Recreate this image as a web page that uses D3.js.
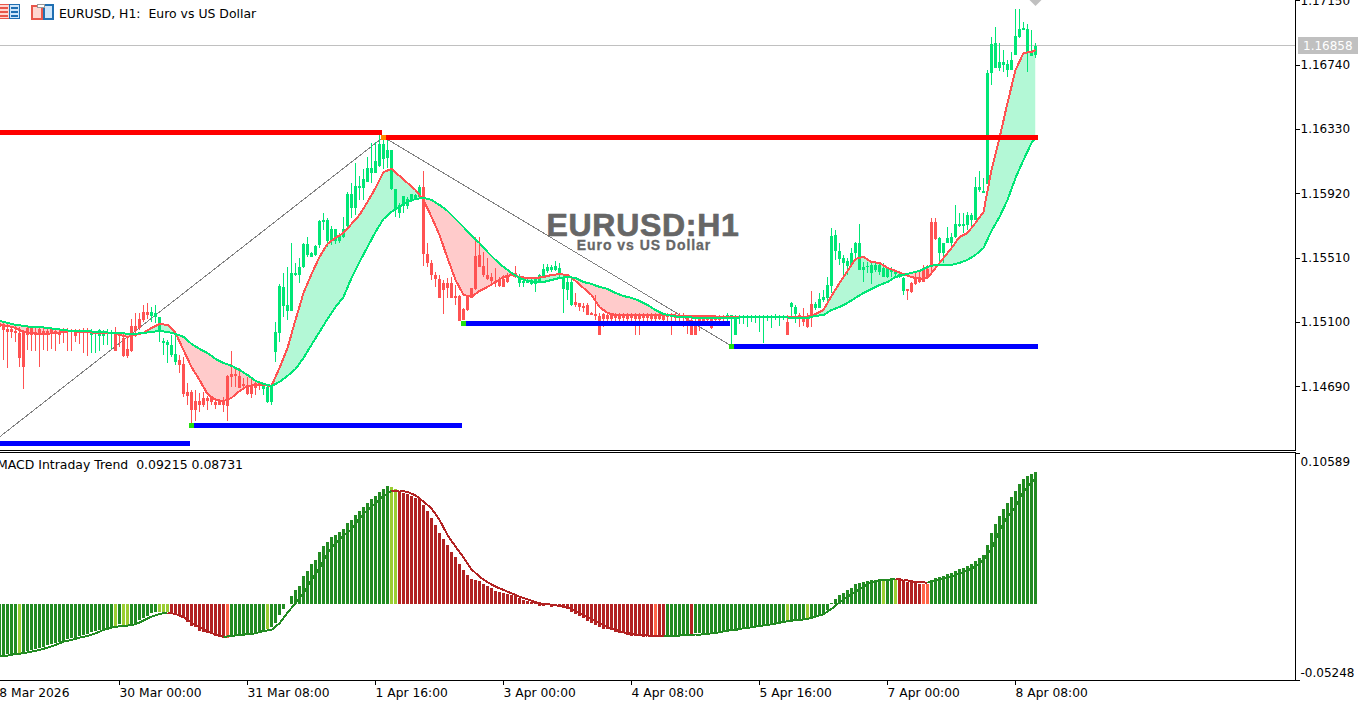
<!DOCTYPE html>
<html>
<head>
<meta charset="utf-8">
<title>EURUSD H1</title>
<script src="https://cdn.jsdelivr.net/npm/d3@7"></script>
<style>
  html, body { margin: 0; padding: 0; background: #fff; overflow: hidden; }
  svg { display: block; }
  text { font-family: "DejaVu Sans", sans-serif; font-size: 12px; fill: #000; }
</style>
</head>
<body>
<div id="chart"></div>
<script>
// all prices are in points, 15100 means 1.15100
const candleHigh = [
15100,15094,15094,15068,15081,15068,15049,15068,15068,15068,
15068,15068,15068,15068,15062,15062,15062,15062,15055,15055,
15055,15062,15062,15055,15043,15055,15049,15055,15049,15068,
15036,15030,14998,15119,15157,15157,15208,15221,15195,15208,
15132,14998,14985,15017,15017,14890,14877,14711,14667,14667,
14647,14654,14628,14628,14616,14609,14622,14762,14915,14813,
14807,14743,14749,14743,14730,14724,14711,14705,14705,15100,
15342,15412,15450,15603,15476,15507,15603,15641,15546,15590,
15750,15794,15762,15711,15692,15667,15769,15928,15985,16113,
16030,16075,16151,16240,16246,16291,16285,16259,16196,15947,
15858,15902,15896,15915,15915,15973,16062,15603,15495,15418,
15399,15367,15380,15386,15335,15272,15189,15259,15316,15641,
15641,15546,15507,15412,15444,15386,15399,15412,15418,15456,
15405,15367,15374,15374,15386,15405,15469,15469,15463,15488,
15476,15399,15393,15386,15284,15221,15221,15221,15164,15272,
15157,15157,15157,15157,15157,15157,15157,15157,15157,15157,
15157,15157,15157,15157,15157,15157,15157,15157,15157,15164,
15157,15157,15144,15144,15144,15132,15132,15144,15144,15144,
15144,15144,15157,15144,15144,15144,15144,15144,15144,15144,
15144,15144,15144,15144,15151,15144,15144,15144,15227,15208,
15157,15189,15157,15297,15227,15284,15304,15386,15699,15686,
15603,15527,15507,15571,15609,15724,15482,15482,15482,15482,
15476,15476,15450,15450,15431,15418,15386,15310,15354,15412,
15418,15463,15463,15762,15762,15641,15603,15705,15667,15845,
15794,15794,15801,15794,16024,16062,16017,16705,16915,16979,
16877,16833,16769,16820,17094,17094,17011,16998,16960,16877];

const candleLow = [
14985,14858,14807,14998,14973,14813,14673,14921,14915,14915,
14813,14921,14915,14928,14915,14960,14966,14915,14915,14973,
14960,14902,14883,14902,14902,14915,14954,14954,14928,14915,
14941,14877,14870,14909,15005,15049,15100,15119,15100,15094,
14973,14890,14839,14877,14826,14775,14622,14571,14444,14469,
14526,14558,14539,14571,14545,14571,14526,14469,14686,14686,
14679,14667,14635,14616,14635,14667,14635,14584,14571,14845,
14973,15132,15113,15176,15393,15348,15444,15514,15514,15520,
15571,15686,15578,15590,15597,15603,15635,15705,15762,15782,
15877,15877,15992,15985,16049,16087,16075,16081,15941,15769,
15762,15794,15820,15871,15877,15890,15456,15450,15367,15323,
15253,15151,15253,15253,15208,15106,15113,15170,15253,15304,
15450,15386,15367,15348,15323,15323,15323,15348,15393,15380,
15323,15323,15348,15335,15291,15348,15386,15412,15418,15425,
15380,15157,15240,15202,15195,15170,15164,15144,15144,15113,
15017,15068,15075,15075,15106,15100,15106,15094,15106,15017,
15017,15094,15100,15106,15094,15113,15094,15100,15017,15075,
15100,15068,15024,15017,15017,15043,15081,15087,15055,15087,
15087,15106,15087,14960,15017,15087,15087,15068,15100,15094,
15036,14966,15106,15062,15113,15075,15113,15017,15132,15094,
15068,15075,15062,15068,15176,15189,15227,15227,15284,15495,
15463,15386,15399,15450,15495,15431,15354,15412,15342,15418,
15399,15386,15380,15386,15380,15380,15272,15240,15284,15335,
15348,15354,15380,15418,15622,15476,15476,15603,15578,15635,
15705,15667,15686,15705,15750,15928,15922,15979,16610,16718,
16699,16692,16660,16705,16801,16909,16960,16692,16794,16782];

const bodyTop = [
15094,15081,15055,15055,15043,15030,15030,15062,15062,15036,
15055,15043,15043,15055,15043,15036,15049,15043,15043,15036,
15043,15043,15049,15036,15036,15049,15043,15036,15036,15030,
15030,14998,14928,15075,15075,15119,15164,15164,15164,15157,
15132,14979,14973,14954,14896,14858,14832,14654,14654,14596,
14596,14616,14616,14622,14590,14603,14603,14756,14769,14769,
14756,14705,14692,14692,14711,14711,14692,14686,14698,15036,
15329,15323,15208,15412,15412,15450,15597,15597,15539,15584,
15743,15750,15750,15692,15692,15648,15692,15915,15915,15966,
15966,16011,16081,16081,16125,16234,16234,16196,16196,15947,
15845,15902,15883,15915,15909,15960,15960,15533,15476,15399,
15374,15348,15348,15348,15265,15265,15183,15259,15316,15520,
15527,15456,15399,15386,15361,15374,15374,15386,15412,15412,
15380,15361,15367,15367,15374,15399,15437,15450,15450,15456,
15444,15386,15354,15354,15227,15221,15202,15208,15157,15151,
15138,15151,15144,15151,15151,15144,15144,15138,15144,15144,
15144,15144,15144,15144,15144,15144,15144,15144,15144,15144,
15144,15144,15125,15113,15100,15132,15125,15132,15125,15132,
15132,15138,15144,15144,15132,15138,15138,15138,15138,15138,
15138,15138,15138,15138,15138,15138,15138,15100,15221,15195,
15144,15132,15119,15215,15215,15246,15259,15335,15648,15654,
15552,15507,15488,15539,15603,15603,15450,15456,15463,15463,
15463,15444,15444,15431,15418,15405,15380,15310,15348,15380,
15386,15437,15437,15737,15737,15635,15603,15635,15641,15724,
15724,15724,15782,15782,15960,15960,15934,16686,16871,16877,
16756,16756,16743,16769,16922,16966,16973,16966,16820,16858];

const bodyBottom = [
15068,15049,15036,15036,15030,14870,14813,15017,15017,15017,
15030,15017,15030,15030,15030,15017,15036,15036,15036,15011,
15036,15036,15036,15017,15030,15011,15011,15030,15030,14915,
15017,14883,14883,14915,15043,15062,15113,15144,15138,15132,
15036,14966,14954,14890,14845,14826,14641,14628,14539,14539,
14571,14571,14596,14590,14571,14571,14571,14565,14749,14756,
14679,14692,14641,14641,14679,14692,14673,14590,14590,14909,
15030,15202,15170,15170,15399,15399,15450,15527,15514,15527,
15590,15737,15616,15616,15616,15616,15641,15711,15826,15826,
15953,15953,15992,16049,16049,16094,16138,16145,15947,15813,
15794,15839,15839,15877,15883,15896,15533,15476,15399,15374,
15253,15304,15316,15253,15253,15106,15113,15176,15253,15310,
15450,15399,15374,15361,15348,15329,15323,15354,15393,15386,
15348,15348,15348,15342,15342,15348,15393,15425,15431,15431,
15399,15310,15304,15208,15208,15195,15189,15144,15144,15138,
15017,15119,15119,15119,15125,15119,15125,15119,15125,15119,
15119,15125,15125,15119,15119,15119,15113,15132,15132,15125,
15125,15125,15106,15017,15017,15106,15106,15113,15062,15113,
15113,15119,15125,15119,15017,15125,15125,15125,15125,15125,
15125,15125,15125,15125,15125,15125,15125,15017,15195,15151,
15132,15100,15068,15132,15189,15189,15240,15253,15329,15552,
15501,15476,15456,15463,15539,15431,15431,15450,15412,15431,
15418,15386,15386,15418,15405,15393,15297,15297,15291,15342,
15354,15354,15380,15450,15629,15539,15539,15603,15603,15641,
15711,15711,15718,15750,15750,15941,15922,15979,16686,16718,
16718,16737,16705,16705,16801,16915,16960,16820,16794,16801];

// candle colour follows the indicator trend, not open/close
const candleTrendRuns = [["r",23],["g",6],["r",9],["g",7],["r",21],["g",40],["r",24],["g",14],["r",38],["g",15],["r",1],["g",2],["r",4],["g",23],["r",8],["g",25]];

// moving averages are read every second bar, plus the last one
const maBars = d3.range(0, 260, 2).concat([259]);
const fastMa = [
15081,15075,15062,15036,15030,15024,15024,15030,15036,15043,
15036,15036,15030,15030,15030,15017,15005,15017,15030,15062,
15087,15081,15030,14921,14813,14730,14641,14603,14596,14616,
14660,14692,14698,14698,14692,14807,14934,15113,15284,15405,
15514,15597,15635,15667,15724,15782,15864,15953,16055,16075,
16030,15985,15941,15877,15769,15654,15507,15367,15272,15259,
15297,15323,15354,15386,15399,15386,15380,15380,15386,15399,
15405,15399,15361,15316,15272,15195,15157,15144,15144,15144,
15144,15144,15144,15144,15144,15138,15138,15138,15138,15138,
15132,15132,15132,15132,15132,15132,15132,15132,15132,15132,
15132,15132,15151,15176,15265,15348,15425,15501,15514,15482,
15476,15444,15425,15405,15386,15374,15380,15444,15507,15571,
15641,15667,15731,15801,16068,16272,16495,16705,16813,16820,
16833];
const slowMa = [
15106,15094,15081,15075,15068,15068,15062,15055,15049,15043,
15043,15043,15036,15036,15030,15030,15024,15024,15030,15036,
15043,15036,15024,15005,14960,14928,14902,14864,14839,14820,
14794,14762,14724,14705,14692,14718,14756,14800,14870,14954,
15036,15119,15195,15259,15380,15482,15578,15673,15756,15801,
15833,15864,15883,15890,15877,15845,15807,15756,15705,15648,
15603,15546,15495,15450,15412,15380,15361,15354,15354,15367,
15380,15386,15380,15354,15342,15323,15310,15284,15265,15253,
15234,15208,15176,15151,15138,15132,15132,15125,15125,15125,
15125,15125,15125,15132,15132,15132,15132,15132,15132,15125,
15125,15125,15138,15144,15176,15195,15221,15253,15284,15310,
15335,15354,15386,15399,15412,15425,15450,15463,15463,15463,
15476,15495,15527,15571,15680,15769,15877,16017,16132,16240,
16272];

// horizontal support and resistance segments
const levelFrom = [-2, 96.5, -2, 48.5, 116.5, 183.5];
const levelTo = [95.5, 259.6, 47.5, 115.6, 182.6, 259.6];
const levelPrice = [16307, 16275, 14326, 14437, 15090, 14944];
const levelColor = ["#ff0000", "#ff0000", "#0000ff", "#0000ff", "#0000ff", "#0000ff"];

const zigzagBars = [0, 96, 183];
const zigzagPrice = [14367, 16278, 14947];
const markerBars = [48, 96, 116, 183];
const markerPrice = [14437, 16278, 15090, 14944];
const markerColor = ["#22e010", "#ff8c00", "#22e010", "#22e010"];

const priceTicks = [1.1715, 1.1674, 1.1633, 1.1592, 1.1551, 1.1510, 1.1469];
const lastPrice = 1.16858;

// histogram and signal, 1000 here means 0.01000
const macdHist = [
-3534,-3534,-3488,-3464,-3418,-3418,-3302,-3255,-3185,-3116,
-3069,-2953,-2837,-2790,-2720,-2604,-2558,-2418,-2372,-2325,
-2186,-2139,-2093,-1907,-1860,-1790,-1721,-1674,-1558,-1488,
-1395,-1442,-1442,-1442,-1325,-1093,-977,-791,-628,-558,
-512,-512,-512,-512,-628,-744,-977,-1209,-1488,-1558,
-1837,-1907,-2023,-2093,-2186,-2255,-2372,-2325,-2209,-2209,
-2139,-2139,-2093,-2023,-1953,-1907,-1790,-1721,-1558,-1325,
-744,-326,20,581,1000,1302,2000,2348,2790,3092,
3627,4092,4325,4720,4836,5069,5255,5650,5882,6231,
6510,6812,7091,7347,7556,7835,8068,8254,8207,8045,
7928,7789,7696,7556,7417,7347,6929,6533,6045,5534,
4999,4557,4139,3674,3278,2813,2395,2046,1767,1697,
1628,1418,1279,1139,953,884,767,721,651,581,
419,302,233,163,70,-93,-93,-47,-186,-116,
-163,-233,-326,-512,-651,-791,-930,-1139,-1279,-1442,
-1558,-1721,-1721,-1790,-1907,-2023,-2023,-2139,-2186,-2186,
-2209,-2255,-2209,-2209,-2139,-2186,-2186,-2139,-2139,-2139,
-2139,-2139,-2069,-2100,-2023,-2023,-2023,-2023,-1976,-1976,
-1907,-1907,-1860,-1790,-1790,-1721,-1674,-1628,-1604,-1558,
-1558,-1488,-1442,-1395,-1349,-1279,-1256,-1163,-1163,-1163,
-1093,-1093,-977,-860,-791,-744,-674,-395,93,372,
651,791,1000,1163,1418,1488,1581,1628,1697,1697,
1767,1697,1744,1697,1697,1697,1628,1581,1535,1465,
1442,1418,1418,1697,1814,1883,1976,2093,2162,2325,
2465,2511,2674,2813,3023,3209,3441,4139,4976,5603,
6162,6650,7068,7487,7905,8393,8742,8951,9091,9215];

const macdSignal = [
-3650,-3581,-3464,-3418,-3302,-3185,-3023,-2837,-2604,-2488,
-2325,-2209,-2023,-1790,-1628,-1535,-1488,-1395,-1139,-860,
-674,-581,-674,-907,-1279,-1604,-1907,-2093,-2279,-2209,
-2139,-2093,-2023,-1860,-1790,-1325,-581,70,767,1697,
2511,3557,4255,4790,5231,5999,6580,7045,7556,7905,
7928,7835,7603,7161,6696,5882,4836,4022,3278,2441,
1930,1535,1232,1000,767,535,349,140,23,-23,
-116,-233,-442,-744,-1046,-1325,-1604,-1790,-1953,-2069,
-2139,-2186,-2186,-2186,-2186,-2186,-2116,-2139,-2093,-2023,
-1953,-1837,-1790,-1674,-1604,-1511,-1442,-1349,-1232,-1139,
-1093,-1023,-860,-698,-326,140,535,884,1232,1535,
1651,1721,1744,1721,1604,1535,1511,1628,1814,1930,
2162,2348,2627,3092,3860,5138,6115,6812,7859,8556,
8731];

// F forest, Y yellowgreen, R firebrick, T tomato
const macdStateRuns = [["F",5],["Y",1],["F",23],["Y",1],["F",1],["Y",2],["F",7],["Y",3],["R",14],["T",1],["F",9],["Y",1],["F",30],["Y",2],["R",39],["T",1],["R",24],["T",1],["R",2],["F",6],["R",1],["F",23],["Y",1],["F",4],["Y",1],["F",18],["Y",1],["F",2],["Y",1],["R",6],["T",2],["F",27]];
const macdColors = { F: "#228b22", Y: "#9acd32", R: "#b22222", T: "#ff6347" };
const macdTop = 0.10589;
const macdBottom = -0.05248;

const timeBars = [-2, 30, 62, 94, 126, 158, 190, 222, 254];
const timeLabels = ["28 Mar 2026", "30 Mar 00:00", "31 Mar 08:00", "1 Apr 16:00", "3 Apr 00:00", "4 Apr 08:00", "5 Apr 16:00", "7 Apr 00:00", "8 Apr 08:00"];

function expandRuns(runs) {
    var out = [];
    runs.forEach(r => { for (var k = 0; k < r[1]; k++) out.push(r[0]); });
    return out;
}
function toPrice(points) { return 1 + points / 100000; }
// the terminal prints a plain hyphen, not the typographic minus
function fmt5(v) { return d3.format(".5f")(v).replace("\u2212", "-"); }

const candleTrend = expandRuns(candleTrendRuns);
const macdState = expandRuns(macdStateRuns);

const width = 1372, height = 702;
const plotRight = 1295, mainBottom = 450, subTop = 452.5, subBottom = 680.5;

const svg = d3.select("#chart").append("svg").attr("width", width).attr("height", height);

const x = d3.scaleLinear().domain([0, 259]).range([-0.5, 1035.5]);
const y = d3.scaleLinear().domain([1.17151, 1.14284]).range([0, mainBottom]);
const m = d3.scaleLinear().domain([macdTop, macdBottom]).range([452.5, 679.5]);

const maData = maBars.map((b, i) => ({ bar: b, fast: toPrice(fastMa[i]), slow: toPrice(slowMa[i]) }));

// fill between the two averages, split by clipping against the slow line
const defs = svg.append("defs");
defs.append("clipPath").attr("id", "above").append("path")
    .attr("d", d3.area().x(d => x(d.bar)).y0(0).y1(d => y(d.slow))(maData));
defs.append("clipPath").attr("id", "below").append("path")
    .attr("d", d3.area().x(d => x(d.bar)).y0(mainBottom).y1(d => y(d.slow))(maData));

const between = d3.area().x(d => x(d.bar)).y0(d => y(d.fast)).y1(d => y(d.slow));
svg.append("path").attr("d", between(maData)).attr("fill", "#b3f8d6").attr("clip-path", "url(#above)");
svg.append("path").attr("d", between(maData)).attr("fill", "#ffcbcb").attr("clip-path", "url(#below)");

// last price line
const lastY = Math.floor(y(lastPrice));
svg.append("line").attr("x1", 0).attr("x2", plotRight)
    .attr("y1", lastY + 0.5).attr("y2", lastY + 0.5)
    .attr("stroke", "#c0c0c0");

// zigzag
svg.append("path")
    .attr("d", d3.line().x((d, i) => x(zigzagBars[i])).y(d => y(toPrice(d)))(zigzagPrice))
    .attr("fill", "none").attr("stroke", "#808080").attr("stroke-width", 1)
    .attr("shape-rendering", "crispEdges");

// candles
const candleColor = { g: "#00e676", r: "#ff5252" };
const candles = svg.append("g").attr("shape-rendering", "crispEdges");
candles.selectAll(".wick").data(candleHigh).enter().append("rect")
    .attr("class", "wick")
    .attr("x", (d, i) => x(i) - 0.5).attr("width", 1)
    .attr("y", d => y(toPrice(d)))
    .attr("height", (d, i) => y(toPrice(candleLow[i])) - y(toPrice(d)))
    .attr("fill", (d, i) => candleColor[candleTrend[i]]);
candles.selectAll(".body").data(bodyTop).enter().append("rect")
    .attr("class", "body")
    .attr("x", (d, i) => x(i) - 1.5).attr("width", 3)
    .attr("y", d => y(toPrice(d)))
    .attr("height", (d, i) => Math.max(1, y(toPrice(bodyBottom[i])) - y(toPrice(d))))
    .attr("fill", (d, i) => candleColor[candleTrend[i]]);

// moving average lines
svg.append("path")
    .attr("d", d3.line().x(d => x(d.bar)).y(d => y(d.fast))(maData))
    .attr("fill", "none").attr("stroke", "#ff5252").attr("stroke-width", 2)
    .attr("shape-rendering", "crispEdges");
svg.append("path")
    .attr("d", d3.line().x(d => x(d.bar)).y(d => y(d.slow))(maData))
    .attr("fill", "none").attr("stroke", "#00e676").attr("stroke-width", 2)
    .attr("shape-rendering", "crispEdges");

// levels
svg.append("g").attr("shape-rendering", "crispEdges")
    .selectAll("rect").data(levelPrice).enter().append("rect")
    .attr("x", (d, i) => x(levelFrom[i]))
    .attr("width", (d, i) => x(levelTo[i]) - x(levelFrom[i]))
    .attr("y", d => y(toPrice(d)) - 2.5).attr("height", 5)
    .attr("fill", (d, i) => levelColor[i]);

svg.append("g").attr("shape-rendering", "crispEdges")
    .selectAll("rect").data(markerBars).enter().append("rect")
    .attr("x", d => x(d) - 2.5).attr("width", 5)
    .attr("y", (d, i) => y(toPrice(markerPrice[i])) - 2.5).attr("height", 5)
    .attr("fill", (d, i) => markerColor[i]);

// gray arrow clipped by the top of the window
svg.append("path")
    .attr("d", d3.symbol().type(d3.symbolSquare).size(72)())
    .attr("transform", "translate(" + x(259) + "," + y(1.17151) + ") rotate(45)")
    .attr("fill", "#c0c0c0");

// watermark
svg.append("text").attr("x", 643).attr("y", 236).attr("text-anchor", "middle")
    .style("font-family", "'Liberation Sans', sans-serif").style("font-size", "32px").style("font-weight", "bold")
    .style("fill", "#666666").style("stroke", "#666666").style("stroke-width", "0.7px")
    .style("letter-spacing", "0.7px").text("EURUSD:H1");
svg.append("text").attr("x", 644).attr("y", 250).attr("text-anchor", "middle")
    .style("font-family", "'Liberation Sans', sans-serif").style("font-size", "14px").style("font-weight", "bold")
    .style("fill", "#666666").style("stroke", "#666666").style("stroke-width", "0.3px")
    .style("letter-spacing", "0.95px").text("Euro vs US Dollar");

// toolbar icons next to the title
const icons = svg.append("g").attr("shape-rendering", "crispEdges");
icons.append("rect").attr("x", -3).attr("y", 4.5).attr("width", 12).attr("height", 14).attr("fill", "#ffd6d0").attr("stroke", "#e8564a");
icons.append("rect").attr("x", 9.5).attr("y", 4.5).attr("width", 10).attr("height", 14).attr("fill", "#cfe6fa").attr("stroke", "#1f6fb2");
d3.range(3).forEach(k => {
    icons.append("rect").attr("x", 0).attr("y", 7 + k * 4).attr("width", 8).attr("height", 2).attr("fill", "#e8564a");
    icons.append("rect").attr("x", 11).attr("y", 7 + k * 4).attr("width", 7).attr("height", 2).attr("fill", "#1f6fb2");
});
icons.append("rect").attr("x", 31.5).attr("y", 5.5).attr("width", 10).attr("height", 13).attr("fill", "#ffd6d0").attr("stroke", "#e8564a").attr("stroke-width", 2);
icons.append("rect").attr("x", 43.5).attr("y", 4.5).attr("width", 9).attr("height", 14).attr("fill", "#cfe6fa").attr("stroke", "#1f6fb2").attr("stroke-width", 2);
icons.append("rect").attr("x", 37.5).attr("y", 4.5).attr("width", 7).attr("height", 3).attr("fill", "#fff").attr("stroke", "#999");

svg.append("text").attr("x", 59).attr("y", 18).attr("xml:space", "preserve")
    .style("font-size", "12.45px").text("EURUSD, H1:  Euro vs US Dollar");

// MACD pane
const macdBars = svg.append("g").attr("shape-rendering", "crispEdges");
macdBars.selectAll("rect").data(macdHist).enter().append("rect")
    .attr("x", (d, i) => x(i) - 1.5).attr("width", 3)
    .attr("y", d => Math.min(m(d / 100000), m(0)))
    .attr("height", d => Math.abs(m(d / 100000) - m(0)))
    .attr("fill", (d, i) => macdColors[macdState[i]]);

const signalGroup = svg.append("g").attr("shape-rendering", "crispEdges");
macdSignal.slice(1).forEach((v, i) => {
    const bar = maBars[i + 1];
    const falling = macdState[bar] === "R" || macdState[bar] === "T";
    signalGroup.append("line")
        .attr("x1", x(maBars[i])).attr("y1", m(macdSignal[i] / 100000))
        .attr("x2", x(bar)).attr("y2", m(v / 100000))
        .attr("stroke", falling ? "#b22222" : "#228b22").attr("stroke-width", 2);
});

svg.append("text").attr("x", -3).attr("y", 469).attr("xml:space", "preserve")
    .style("font-size", "12.45px").text("MACD Intraday Trend  0.09215 0.08731");

// frame and axes
const frame = svg.append("g").attr("shape-rendering", "crispEdges");
frame.append("line").attr("x1", 0).attr("x2", plotRight + 0.5).attr("y1", mainBottom + 0.5).attr("y2", mainBottom + 0.5).attr("stroke", "#000");
frame.append("line").attr("x1", 0).attr("x2", plotRight + 0.5).attr("y1", subTop).attr("y2", subTop).attr("stroke", "#000");
frame.append("line").attr("x1", 0).attr("x2", plotRight + 0.5).attr("y1", subBottom).attr("y2", subBottom).attr("stroke", "#000");
frame.append("line").attr("x1", plotRight + 0.5).attr("x2", plotRight + 0.5).attr("y1", 0).attr("y2", mainBottom + 0.5).attr("stroke", "#000");
frame.append("line").attr("x1", plotRight + 0.5).attr("x2", plotRight + 0.5).attr("y1", subTop).attr("y2", subBottom).attr("stroke", "#000");

const priceAxis = svg.append("g").attr("transform", "translate(" + (plotRight + 0.5) + ",0)")
    .call(d3.axisRight(y).tickValues(priceTicks).tickSize(4).tickPadding(1).tickFormat(fmt5));
priceAxis.select(".domain").remove();
priceAxis.selectAll("line").attr("stroke", "#000").attr("shape-rendering", "crispEdges");
priceAxis.selectAll("text").style("font-size", "12px").style("font-family", "'DejaVu Sans', sans-serif");

const macdAxis = svg.append("g").attr("transform", "translate(" + (plotRight + 0.5) + ",0.5)")
    .call(d3.axisRight(m).tickValues([macdTop, macdBottom]).tickSize(4).tickPadding(1).tickFormat(fmt5));
macdAxis.select(".domain").remove();
macdAxis.selectAll("line").attr("stroke", "#000").attr("shape-rendering", "crispEdges");
macdAxis.selectAll("text").attr("dy", null).style("font-size", "12px").style("font-family", "'DejaVu Sans', sans-serif");
macdAxis.selectAll(".tick").filter(d => d === macdTop).select("text").attr("y", 12);
macdAxis.selectAll(".tick").filter(d => d === macdBottom).select("text").attr("y", -4);

// last price tag
svg.append("rect").attr("x", 1298).attr("y", lastY - 8).attr("width", 60).attr("height", 17).attr("fill", "#c0c0c0")
    .attr("shape-rendering", "crispEdges");
svg.append("text").attr("x", 1303).attr("y", lastY + 5).style("fill", "#fff").text(fmt5(lastPrice));

// time axis
const timeGroup = svg.append("g");
timeBars.forEach((b, i) => {
    timeGroup.append("line").attr("x1", x(b)).attr("x2", x(b)).attr("y1", subBottom).attr("y2", subBottom + 4)
        .attr("stroke", "#000").attr("shape-rendering", "crispEdges");
    timeGroup.append("text").attr("x", x(b)).attr("y", 697).style("font-size", "12.3px").text(timeLabels[i]);
});
</script>
</body>
</html>
